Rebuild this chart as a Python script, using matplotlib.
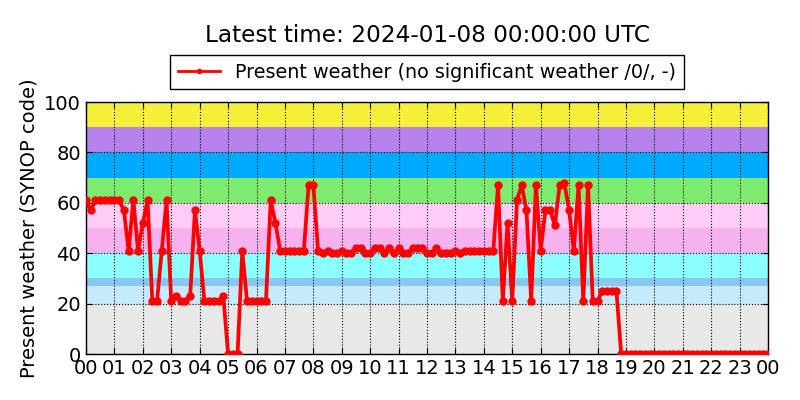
import numpy as np
import matplotlib
matplotlib.use('Agg')
import matplotlib.pyplot as plt

# present weather code, one value every 10 minutes from 00:00 to 24:00
ww = [
    61, 57, 61, 61, 61, 61,   # 00
    61, 61, 57, 41, 61, 41,   # 01
    52, 61, 21, 21, 41, 61,   # 02
    21, 23, 21, 21, 23, 57,   # 03
    41, 21, 21, 21, 21, 23,   # 04
    0, 0, 0, 41, 21, 21,      # 05
    21, 21, 21, 61, 52, 41,   # 06
    41, 41, 41, 41, 41, 67,   # 07
    67, 41, 40, 41, 40, 40,   # 08
    41, 40, 40, 42, 42, 40,   # 09
    40, 42, 42, 40, 42, 40,   # 10
    42, 40, 40, 42, 42, 42,   # 11
    40, 40, 42, 40, 40, 40,   # 12
    41, 40, 41, 41, 41, 41,   # 13
    41, 41, 41, 67, 21, 52,   # 14
    21, 61, 67, 57, 21, 67,   # 15
    41, 57, 57, 51, 67, 68,   # 16
    57, 41, 67, 21, 67, 21,   # 17
    21, 25, 25, 25, 25, 0,    # 18
    0, 0, 0, 0, 0, 0,         # 19
    0, 0, 0, 0, 0, 0,         # 20
    0, 0, 0, 0, 0, 0,         # 21
    0, 0, 0, 0, 0, 0,         # 22
    0, 0, 0, 0, 0, 0,         # 23
    0,
]
hours = np.arange(len(ww)) / 6.0

# background bands (SYNOP code groups)
band_lo = [0, 20, 27, 30, 40, 50, 60, 70, 80, 90]
band_hi = [20, 27, 30, 40, 50, 60, 70, 80, 90, 100]
band_col = ['#e8e8e8', '#c6e9fb', '#88c8f0', '#8cffff', '#f5b2ee',
            '#ffcdf7', '#7deb70', '#00aaff', '#b482ea', '#f7f03a']

xtick_labels = ['%02d' % (h % 24) for h in range(25)]

fig = plt.figure(figsize=(8, 4), dpi=100)
ax = fig.add_axes([0.1075, 0.115, 0.8525, 0.63])

for lo, hi, c in zip(band_lo, band_hi, band_col):
    ax.axhspan(lo, hi, color=c, lw=0, zorder=0)

ax.plot(hours, ww, color='red', lw=2.7, marker='o', ms=5, mec='red',
        label='Present weather (no significant weather /0/, -)', zorder=3)

ax.set_xlim(0, 24)
ax.set_ylim(0, 100)
ax.set_xticks(range(25))
ax.set_xticklabels(xtick_labels)
ax.set_yticks([0, 20, 40, 60, 80, 100])
ax.tick_params(direction='in', top=True, right=True, labelsize=14, length=4)
ax.grid(True, color='black', linestyle=':', lw=0.8, zorder=1)
for s in ax.spines.values():
    s.set_linewidth(1)
    s.set_color('black')
ax.set_ylabel('Present weather (SYNOP code)', fontsize=14)

leg = ax.legend(loc='lower center', bbox_to_anchor=(0.5, 1.05), borderaxespad=0,
                numpoints=1, fancybox=False, framealpha=1, edgecolor='black',
                fontsize=13.8, handlelength=2.2)
leg.legend_handles[0].set_markersize(3)
leg.legend_handles[0].set_linewidth(2)
ax.set_title('Latest time: 2024-01-08 00:00:00 UTC', fontsize=16.7, pad=43)

fig.savefig('out.png', dpi=100)
